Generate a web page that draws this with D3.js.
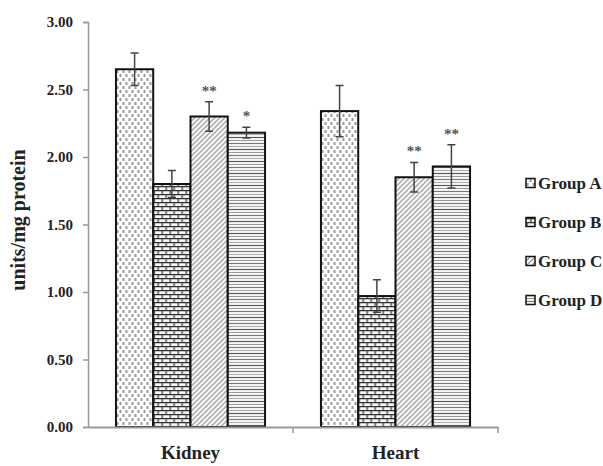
<!DOCTYPE html>
<html>
<head>
<meta charset="utf-8">
<script src="https://cdn.jsdelivr.net/npm/d3@7"></script>
<style>
  body { margin: 0; background: #fff; }
</style>
</head>
<body>
<script>
var categorias = ["Kidney", "Heart"];
var grupos = ["Group A", "Group B", "Group C", "Group D"];
var valores = [[2.65, 1.80, 2.30, 2.18], [2.34, 0.97, 1.85, 1.93]];
var errores = [[0.12, 0.10, 0.11, 0.04], [0.19, 0.12, 0.11, 0.16]];
var asteriscos = [["", "", "**", "*"], ["", "", "**", "**"]];
var ticksY = [0, 0.5, 1, 1.5, 2, 2.5, 3];

var fuente = "'Liberation Serif', 'Times New Roman', Times, serif";

var ancho = 410;
var altura = 405;
var margen = { superior: 22, derecho: 105, inferior: 39, izquierdo: 88 };

var svgRaiz = d3.select("body")
    .append("svg")
    .attr("width", ancho + margen.izquierdo + margen.derecho)
    .attr("height", altura + margen.superior + margen.inferior);

// patrones de relleno
var defs = svgRaiz.append("defs");

var pA = defs.append("pattern").attr("id", "pat0").attr("patternUnits", "userSpaceOnUse")
    .attr("width", 6).attr("height", 8);
pA.append("rect").attr("width", 6).attr("height", 8).attr("fill", "#fff");
pA.append("rect").attr("x", 0.5).attr("y", 0).attr("width", 2).attr("height", 3).attr("fill", "#9a9a9a");
pA.append("rect").attr("x", 3.5).attr("y", 4).attr("width", 2).attr("height", 3).attr("fill", "#9a9a9a");

var pB = defs.append("pattern").attr("id", "pat1").attr("patternUnits", "userSpaceOnUse")
    .attr("width", 8).attr("height", 8);
pB.append("rect").attr("width", 8).attr("height", 8).attr("fill", "#f4f4f4");
pB.append("path").attr("d", "M0,0.6H8M0,4.6H8M1,0.6V4.6M5,4.6V8.6")
    .attr("stroke", "#333").attr("stroke-width", 1.2).attr("fill", "none");

var pC = defs.append("pattern").attr("id", "pat2").attr("patternUnits", "userSpaceOnUse")
    .attr("width", 5).attr("height", 5);
pC.append("rect").attr("width", 5).attr("height", 5).attr("fill", "#fff");
pC.append("path").attr("d", "M0,5L5,0M-1,1L1,-1M4,6L6,4")
    .attr("stroke", "#888").attr("stroke-width", 1.2).attr("fill", "none");

var pD = defs.append("pattern").attr("id", "pat3").attr("patternUnits", "userSpaceOnUse")
    .attr("width", 4).attr("height", 12);
pD.append("rect").attr("width", 4).attr("height", 12).attr("fill", "#fff");
[["#777", 1.5], ["#aaa", 4.5], ["#555", 7.5], ["#999", 10.5]].forEach(function (l) {
    pD.append("path").attr("d", "M0," + l[1] + "H4")
        .attr("stroke", l[0]).attr("stroke-width", 1.2);
});

var svg = svgRaiz.append("g")
    .attr("transform", "translate(" + margen.izquierdo + "," + margen.superior + ")");

var escalaX = d3.scaleBand()
    .domain(categorias)
    .range([0, ancho]);

var escalaGrupo = d3.scaleBand()
    .domain(grupos)
    .range([0, escalaX.bandwidth()])
    .paddingOuter(0.75);

var escalaY = d3.scaleLinear()
    .domain([0, 3])
    .range([altura, 0]);

// eje Y
var ejeY = svg.append("g")
    .call(d3.axisLeft(escalaY).tickValues(ticksY).tickFormat(d3.format(".2f")).tickSize(5).tickPadding(10));
ejeY.attr("font-family", null);
ejeY.select(".domain").attr("stroke", "#999").attr("stroke-width", 1.5);
ejeY.selectAll(".tick line").attr("stroke", "#999").attr("stroke-width", 1.5);
ejeY.selectAll("text")
    .style("font-family", fuente).style("font-weight", "bold")
    .style("font-size", "15px").attr("fill", "#222");

// barras
var filas = [];
categorias.forEach(function (c, i) {
    grupos.forEach(function (g, j) {
        filas.push({ cat: c, grupo: g, j: j, valor: valores[i][j], err: errores[i][j], ast: asteriscos[i][j] });
    });
});

var barras = svg.selectAll(".barra")
    .data(filas)
    .enter()
    .append("g")
    .attr("class", "barra")
    .attr("transform", function (d) { return "translate(" + (escalaX(d.cat) + escalaGrupo(d.grupo)) + ",0)"; });

barras.append("rect")
    .attr("x", 0)
    .attr("y", function (d) { return escalaY(d.valor); })
    .attr("width", escalaGrupo.bandwidth())
    .attr("height", function (d) { return altura - escalaY(d.valor); })
    .attr("fill", function (d) { return "url(#pat" + d.j + ")"; })
    .attr("stroke", "#111")
    .attr("stroke-width", 2);

// barras de error
var bw = escalaGrupo.bandwidth();
barras.append("path")
    .attr("d", function (d) {
        var t = escalaY(d.valor + d.err), b = escalaY(d.valor - d.err), m = bw / 2;
        return "M" + m + "," + t + "V" + b + "M" + (m - 4) + "," + t + "H" + (m + 4) + "M" + (m - 4) + "," + b + "H" + (m + 4);
    })
    .attr("stroke", "#444")
    .attr("stroke-width", 1.5)
    .attr("fill", "none");

barras.append("text")
    .attr("x", bw / 2)
    .attr("y", function (d) { return escalaY(d.valor + d.err) - 6; })
    .attr("text-anchor", "middle")
    .style("font-family", fuente).style("font-weight", "bold")
    .style("font-size", "15px")
    .attr("fill", "#555")
    .text(function (d) { return d.ast; });

// eje X
var ejeX = svg.append("g")
    .attr("transform", "translate(0," + altura + ")")
    .call(d3.axisBottom(escalaX).tickSize(0).tickPadding(19));
ejeX.attr("font-family", null);
ejeX.select(".domain").attr("stroke", "#999").attr("stroke-width", 2);
ejeX.selectAll("text")
    .style("font-family", fuente).style("font-weight", "bold")
    .style("font-size", "19px").attr("fill", "#222");
ejeX.selectAll(".limite")
    .data(categorias.slice(1).map(function (c) { return escalaX(c); }).concat([ancho]))
    .enter()
    .append("line")
    .attr("x1", function (d) { return d; })
    .attr("x2", function (d) { return d; })
    .attr("y1", 0)
    .attr("y2", 6)
    .attr("stroke", "#999")
    .attr("stroke-width", 1.5);

// titulo eje Y
svgRaiz.append("text")
    .attr("transform", "rotate(-90)")
    .attr("x", -220)
    .attr("y", 25)
    .attr("text-anchor", "middle")
    .style("font-family", fuente).style("font-weight", "bold")
    .style("font-size", "20px")
    .attr("fill", "#222")
    .text("units/mg protein");

// leyenda
var leyenda = svgRaiz.selectAll(".leyenda")
    .data(grupos)
    .enter()
    .append("g")
    .attr("class", "leyenda")
    .attr("transform", function (d, i) { return "translate(526," + (183 + i * 39) + ")"; });

leyenda.append("rect")
    .attr("x", 0)
    .attr("y", -4.5)
    .attr("width", 9)
    .attr("height", 9)
    .attr("fill", function (d, i) { return "url(#pat" + i + ")"; })
    .attr("stroke", "#111")
    .attr("stroke-width", 1.5);

leyenda.append("text")
    .attr("x", 12)
    .attr("y", 6)
    .style("font-family", fuente).style("font-weight", "bold")
    .style("font-size", "17px")
    .attr("fill", "#222")
    .text(function (d) { return d; });
</script>
</body>
</html>
